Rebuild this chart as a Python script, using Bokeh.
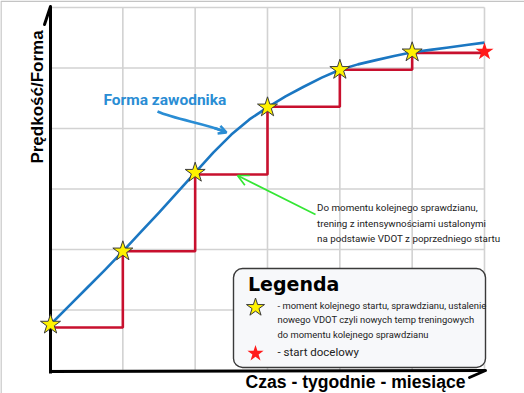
import numpy as np
from bokeh.plotting import figure
from bokeh.models import Range1d, Arrow, OpenHead
from bokeh.core.properties import value
from bokeh.embed import file_html
from bokeh.resources import INLINE

# ---- data ----
check_x = [0, 1, 2, 3, 4, 5]
check_y = [0.76, 1.97, 3.27, 4.35, 4.97, 5.26]
target_x = [6]
target_y = [5.27]
form_x = [0, 0.25, 0.5, 0.75, 1, 1.25, 1.5, 1.75, 2, 2.25, 2.5, 2.75, 3,
          3.25, 3.5, 3.75, 4, 4.25, 4.5, 4.75, 5, 5.25, 5.5, 5.75, 6]
form_y = [0.76, 1.06, 1.36, 1.66, 1.97, 2.29, 2.61, 2.94, 3.27, 3.60, 3.90, 4.15, 4.35,
          4.53, 4.69, 4.84, 4.97, 5.06, 5.13, 5.20, 5.26, 5.30, 5.34, 5.38, 5.42]
plan_x = [0, 1, 2, 3, 4, 5, 6]
plan_y = [0.71, 1.97, 3.24, 4.36, 4.97, 5.25, 5.27]
grid_ticks = [0, 1, 2, 3, 4, 5, 6]

y_label = "Prędkość/Forma"
x_label = "Czas - tygodnie - miesiące"
curve_label = "Forma zawodnika"
note_lines = ["Do momentu kolejnego sprawdzianu,",
              "trening z intensywnościami ustalonymi",
              "na podstawie VDOT z poprzedniego startu"]
legend_title = "Legenda"
legend_lines = ["- moment kolejnego startu, sprawdzianu,  ustalenie",
                "nowego VDOT czyli nowych temp treningowych",
                "do momentu kolejnego sprawdzianu"]
legend_target = "- start docelowy"

# ---- layout helpers (reference pixel -> data) ----
W, H = 524, 393
SX = 434 / 6.0
SY = 363 / 6.0
def rx(px):
    return (px - 50) / SX
def ry(py):
    return (370 - py) / SY
SHIFT = 0.38  # baseline correction (fraction of font size)
def base(py, size):
    return ry(py - SHIFT * size)

p = figure(width=W, height=H, output_backend="svg", toolbar_location=None,
           x_axis_location=None, y_axis_location=None, title=None,
           x_range=Range1d(rx(0), rx(W)),
           y_range=Range1d(ry(H), ry(0)),
           min_border=0, min_border_left=0, min_border_right=0,
           min_border_top=0, min_border_bottom=0)
p.xgrid.visible = False
p.ygrid.visible = False
p.outline_line_color = None
p.background_fill_color = "white"
p.border_fill_color = "white"

THIN = value("Roboto")
SANS = value("Liberation Sans")

# image frame (top/left)
p.line([rx(0.5), rx(0.5), rx(W)], [ry(H), ry(0.7), ry(0.7)], line_color="#c4c4c4", line_width=1.5)

# grid
p.segment(x0=grid_ticks, y0=[0] * 7, x1=grid_ticks, y1=[6] * 7,
          line_color="#d2d2d2", line_width=1.6)
p.segment(x0=[0] * 7, y0=grid_ticks, x1=[6] * 7, y1=grid_ticks,
          line_color="#d2d2d2", line_width=1.6)

# legend box
p.quad(left=[rx(233)], right=[rx(485)], top=[ry(268)], bottom=[ry(367)],
       border_radius=9, fill_color="#f7f8fa", line_color="#3a3a3a", line_width=1.4)

# axes
p.line([rx(50), rx(50)], [ry(373), ry(6)], line_color="black", line_width=3)
p.line([rx(50), rx(44)], [ry(6), ry(24)], line_color="black", line_width=3, line_cap="round")
p.line([rx(48.5), rx(485)], [ry(371), ry(370)], line_color="black", line_width=3)
p.line([rx(485), rx(469)], [ry(370), ry(377)], line_color="black", line_width=3, line_cap="round")

# red plan steps, blue form curve
p.step(plan_x, plan_y, mode="after", line_color="#c8102e", line_width=2.6)
p.line(form_x, form_y, line_color="#1b77c2", line_width=2.6, line_join="round")

# stars
p.scatter(check_x, check_y, marker="star", size=21, fill_color="#fff200",
          line_color="#3b3b3b", line_width=1)
p.scatter(target_x, target_y, marker="star", size=19, fill_color="#ff1a1a",
          line_color=None)

# legend content
p.scatter([rx(255)], [ry(307)], marker="star", size=19, fill_color="#fff200",
          line_color="#3b3b3b", line_width=1)
p.scatter([rx(255)], [ry(353)], marker="star", size=17, fill_color="#ff1a1a",
          line_color=None)
p.text(x=[rx(247.5)], y=[base(291, 19)], text=[legend_title], text_font=value("DejaVu Sans"),
       text_font_style="bold", text_font_size="19px", text_color="black",
       text_baseline="alphabetic", text_align="left")
p.text(x=[rx(277)] * 3, y=[base(308.3, 9.4), base(322.8, 9.4), base(337.8, 9.4)],
       text=legend_lines, text_font=THIN, text_font_size="9.4px", text_color="#222222",
       text_baseline="alphabetic", text_align="left")
p.text(x=[rx(277)], y=[base(356, 11.5)], text=[legend_target],
       text_font=THIN, text_font_size="11.5px", text_color="#222222",
       text_baseline="alphabetic", text_align="left")

# note text
p.text(x=[rx(316.5)] * 3, y=[base(211, 9.8), base(226.5, 9.8), base(242, 9.8)],
       text=note_lines, text_font=THIN, text_font_size="9.8px", text_color="#222222",
       text_baseline="alphabetic", text_align="left")

# curve label and arrow
p.text(x=[rx(103)], y=[base(105, 15.5)], text=[curve_label], text_font=THIN,
       text_font_style="bold", text_font_size="15.5px", text_color="#2a8dd4",
       text_baseline="alphabetic", text_align="left")
p.bezier(x0=[rx(157)], y0=[ry(111)], x1=[rx(224)], y1=[ry(131)],
         cx0=[rx(175)], cy0=[ry(119)], cx1=[rx(205)], cy1=[ry(123)],
         line_color="#2a8dd4", line_width=2.5)
p.add_layout(Arrow(end=OpenHead(size=8, line_color="#2a8dd4", line_width=2.5),
                   x_start=rx(214), y_start=ry(127.5), x_end=rx(226), y_end=ry(132),
                   line_color="#2a8dd4", line_width=2.5))

# green arrow
p.add_layout(Arrow(end=OpenHead(size=11, line_color="#33e633", line_width=1.7),
                   x_start=rx(315), y_start=ry(214), x_end=rx(237), y_end=ry(175),
                   line_color="#33e633", line_width=1.7))

# axis labels
p.text(x=[rx(43 - SHIFT * 17)], y=[ry(96.5)], text=[y_label], angle=np.pi / 2, text_font=SANS,
       text_font_style="bold", text_font_size="17px", text_color="black",
       text_baseline="alphabetic", text_align="center")
p.text(x=[rx(245)], y=[base(388, 17.6)], text=[x_label], text_font=SANS,
       text_font_style="bold", text_font_size="17.6px", text_color="black",
       text_baseline="alphabetic", text_align="left")

open("out.html", "w").write(file_html(p, INLINE))
